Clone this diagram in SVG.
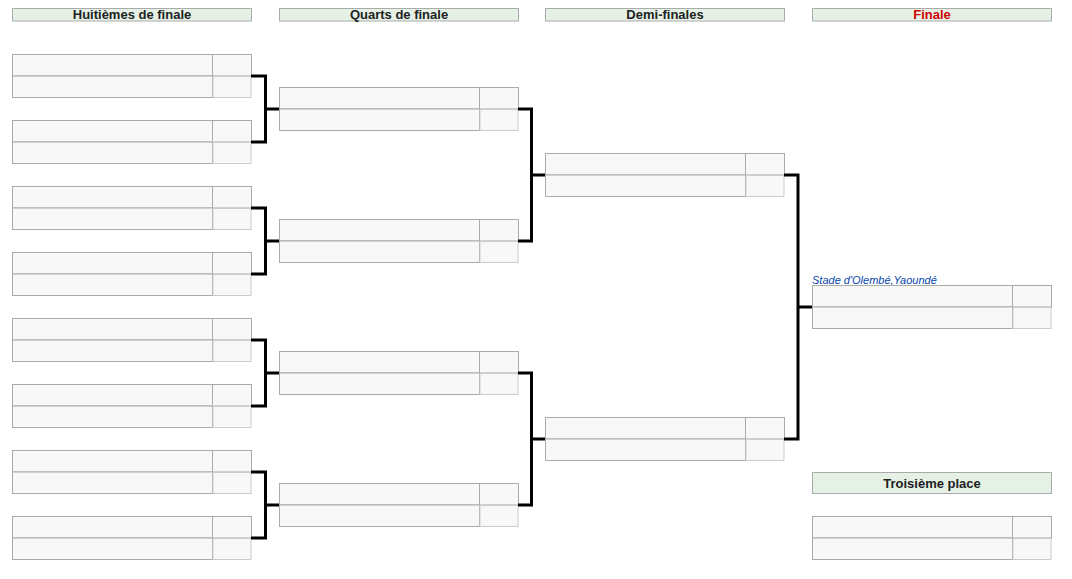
<svg xmlns="http://www.w3.org/2000/svg" width="1072" height="579" viewBox="0 0 1072 579">
<style>
.hdr{fill:#e6f1e6;stroke:#aaaaaa;stroke-width:1}
.ht{font-family:"Liberation Sans",Arial,sans-serif;font-weight:bold;font-size:13px;fill:#202122;text-anchor:middle}
.cell{fill:#f8f8f8;stroke:#aaaaaa;stroke-width:1}
.sc2{fill:#f8f8f8;stroke:#cccccc;stroke-width:1}
.con{fill:none;stroke:#000;stroke-width:3}
.venue{font-family:"Liberation Sans",Arial,sans-serif;font-style:italic;font-size:11px;fill:#0645ad}
</style>
<defs>
<g id="match">
<rect class="cell" x="0.5" y="0.5" width="200" height="21.5"/>
<rect class="cell" x="200.5" y="0.5" width="39" height="21.5"/>
<rect class="cell" x="0.5" y="22" width="200" height="21.5"/>
<rect class="sc2" x="201" y="22.5" width="38" height="21"/>
</g>
</defs>
<g id="headers">
<rect class="hdr" x="12.5" y="8.5" width="239" height="12.5"/>
<text class="ht" x="132" y="19">Huitièmes de finale</text>
<rect class="hdr" x="279.5" y="8.5" width="239" height="12.5"/>
<text class="ht" x="399" y="19">Quarts de finale</text>
<rect class="hdr" x="545.5" y="8.5" width="239" height="12.5"/>
<text class="ht" x="665" y="19">Demi-finales</text>
<rect class="hdr" x="812.5" y="8.5" width="239" height="12.5"/>
<text class="ht" x="932" y="19" style="fill:#cc0000">Finale</text>
</g>
<g id="r16">
<use href="#match" x="12" y="54"/>
<use href="#match" x="12" y="120"/>
<use href="#match" x="12" y="186"/>
<use href="#match" x="12" y="252"/>
<use href="#match" x="12" y="318"/>
<use href="#match" x="12" y="384"/>
<use href="#match" x="12" y="450"/>
<use href="#match" x="12" y="516"/>
</g>
<g id="qf">
<use href="#match" x="279" y="87"/>
<use href="#match" x="279" y="219"/>
<use href="#match" x="279" y="351"/>
<use href="#match" x="279" y="483"/>
</g>
<g id="sf">
<use href="#match" x="545" y="153"/>
<use href="#match" x="545" y="417"/>
</g>
<g id="final">
<text class="venue" x="812" y="284">Stade d'Olembé,Yaoundé</text>
<use href="#match" x="812" y="285"/>
</g>
<g id="third">
<rect class="hdr" x="812.5" y="472.5" width="239" height="21"/>
<text class="ht" x="932" y="487.5">Troisième place</text>
<use href="#match" x="812" y="516"/>
</g>
<g id="connectors">
<path class="con" d="M251 76H265.5V142H251M265.5 109H279"/>
<path class="con" d="M251 208H265.5V274H251M265.5 241H279"/>
<path class="con" d="M251 340H265.5V406H251M265.5 373H279"/>
<path class="con" d="M251 472H265.5V538H251M265.5 505H279"/>
<path class="con" d="M518 109H531.5V241H518M531.5 175H545"/>
<path class="con" d="M518 373H531.5V505H518M531.5 439H545"/>
<path class="con" d="M784 175H798V439H784M798 307H812"/>
</g>
</svg>
